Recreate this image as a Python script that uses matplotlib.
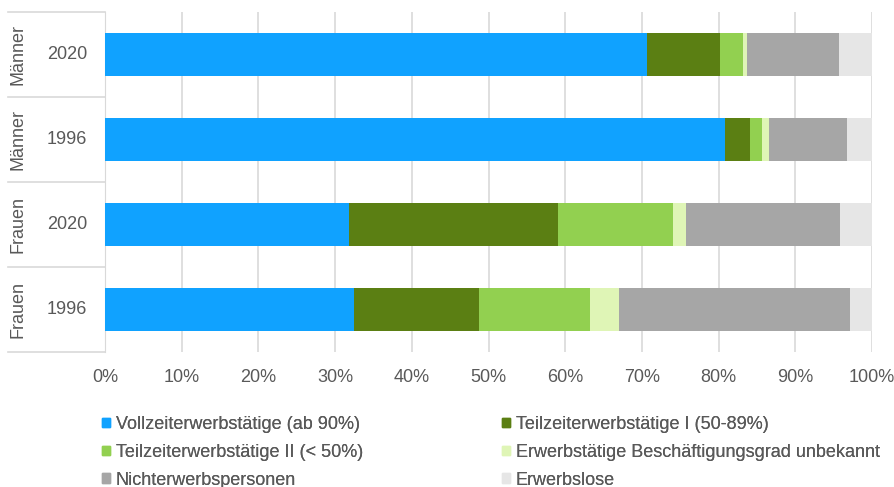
import matplotlib.pyplot as plt
from matplotlib.lines import Line2D
from matplotlib.patches import Patch

plt.rcParams['font.family'] = ['Liberation Sans', 'DejaVu Sans']

# rows from bottom to top
genders = ['Frauen', 'Frauen', 'Männer', 'Männer']
years = ['1996', '2020', '1996', '2020']

series = ['Vollzeiterwerbstätige (ab 90%)', 'Teilzeiterwerbstätige I (50-89%)',
          'Teilzeiterwerbstätige II (< 50%)', 'Erwerbstätige Beschäftigungsgrad unbekannt',
          'Nichterwerbspersonen', 'Erwerbslose']
colors = ['#10A2FF', '#5B7F13', '#92D050', '#DFF5B6', '#A6A6A6', '#E6E6E6']

voll = [32.4, 31.8, 80.8, 70.7]
tz1 = [16.3, 27.3, 3.3, 9.5]
tz2 = [14.5, 15.0, 1.6, 3.0]
unbek = [3.8, 1.7, 0.9, 0.5]
nicht = [30.1, 20.0, 10.2, 12.0]
los = [2.9, 4.2, 3.2, 4.3]
values = [voll, tz1, tz2, unbek, nicht, los]

txt = '#595959'
fs = 13
fig = plt.figure(figsize=(8.94, 4.87), dpi=100)
ax = fig.add_axes([105/894, 1-352/487, 767/894, 340/487])

y = range(len(years))
left = [0.0]*len(years)
for vals, c, name in zip(values, colors, series):
    ax.barh(y, vals, left=left, height=0.5, color=c, label=name, zorder=3)
    left = [l + v for l, v in zip(left, vals)]

ax.set_xlim(0, 100)
ax.set_ylim(-0.5, 3.5)
ax.set_xticks(range(0, 101, 10))
ax.set_xticklabels([f'{t}%' for t in range(0, 101, 10)], color=txt, fontsize=fs)
ax.tick_params(axis='x', length=0, pad=12)
ax.set_yticks([])
ax.grid(axis='x', color='#D9D9D9', linewidth=1.2, zorder=0)
for s in ['top', 'right', 'bottom']:
    ax.spines[s].set_visible(False)
ax.spines['left'].set_color('#D9D9D9')

# two-level category labels
for i, (g, yr) in enumerate(zip(genders, years)):
    ax.text(-38/767, i, yr, transform=ax.get_yaxis_transform(), ha='center', va='center',
            fontsize=fs, color=txt)
    ax.text(-87/767, i, g, transform=ax.get_yaxis_transform(), ha='center', va='center',
            fontsize=fs, color=txt, rotation=90)
for b in [-0.5, 0.5, 1.5, 2.5, 3.5]:
    ax.add_line(Line2D([-97/767, 0], [b, b], transform=ax.get_yaxis_transform(),
                       color='#D9D9D9', linewidth=1.2, clip_on=False))

handles = [Patch(color=c) for c in colors]
for cols, x0 in [([0, 2, 4], 102), ([1, 3, 5], 502)]:
    leg = fig.legend([handles[i] for i in cols], [series[i] for i in cols],
                     loc='upper left', bbox_to_anchor=(x0/894, 1-416/487), frameon=False,
                     fontsize=fs, labelcolor=txt, handlelength=0.45, handleheight=0.45,
                     handletextpad=0.3, labelspacing=0.6, borderpad=0, borderaxespad=0)
    fig.add_artist(leg)

fig.savefig('out.png', dpi=100)
